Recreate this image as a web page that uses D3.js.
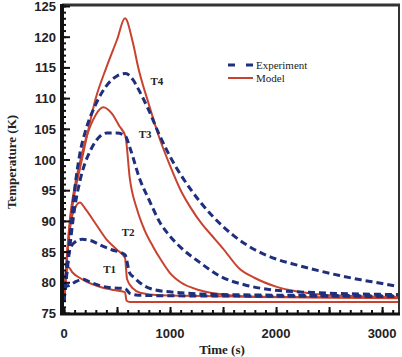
<!DOCTYPE html>
<html>
<head>
<meta charset="utf-8">
<script src="https://d3js.org/d3.v7.min.js"></script>
<style>
  body { margin: 0; background: #fff; }
  .tick-label { font-family: "Liberation Sans", Arial, sans-serif; font-weight: bold; font-size: 13px; fill: #222; }
  .axis-title { font-family: "Liberation Serif", "Times New Roman", serif; font-weight: bold; font-size: 13px; fill: #222; }
  .curve-label { font-family: "Liberation Serif", "Times New Roman", serif; font-weight: bold; font-size: 11px; fill: #222; }
  .legend-text { font-family: "Liberation Serif", "Times New Roman", serif; font-size: 11px; fill: #222; }
</style>
</head>
<body>
<svg width="402" height="357"></svg>
<script>
// data: [time (s), temperature (K)]
var expT1 = [[0,77],[20,79.3],[50,79.5],[100,80],[180,80.5],[250,80],[350,79.4],[450,79.1],[575,79],[620,78.2],[700,77.9],[1000,77.8],[3150,77.7]];
var expT2 = [[0,77],[30,83],[60,85.5],[100,86.5],[170,87],[250,86.8],[350,86],[450,85.3],[575,84.5],[620,81.5],[660,80.8],[750,79.5],[850,78.8],[1100,78.3],[1500,78],[3150,77.8]];
var expT3 = [[0,77],[50,85],[100,92],[150,96.5],[200,99.5],[250,101.5],[300,103],[400,104.3],[500,104.3],[580,103.8],[620,102],[717,96.7],[800,93.5],[906,89.7],[1000,87.5],[1100,85.7],[1283,83.2],[1470,81],[1700,79.6],[1950,78.8],[2400,78.3],[3150,78]];
var expT4 = [[0,77],[50,86],[100,95],[150,101],[200,104.5],[300,109],[400,112],[500,113.6],[580,114],[650,113],[700,111.5],[800,108],[900,104],[1000,100.5],[1200,95],[1400,90.8],[1600,87.6],[1800,85.3],[2000,83.8],[2200,82.8],[2400,81.9],[2600,81.1],[2800,80.4],[3000,79.8],[3150,79.3]];

var modT1 = [[0,77],[20,81],[40,82.5],[80,81.6],[150,80.7],[250,79.8],[350,79.2],[450,78.8],[575,78.4],[590,77],[620,76.8],[3150,76.8]];
var modT2 = [[0,77],[40,86],[80,91],[150,93],[200,92],[300,89.5],[400,87],[500,85.3],[575,84],[595,80.5],[650,79],[717,78.3],[900,77.9],[3150,77.5]];
var modT3 = [[0,77],[30,85],[60,91],[100,95.5],[150,99.5],[200,103],[250,105.5],[300,107.3],[370,108.5],[450,107.5],[520,105.5],[580,103.7],[620,97],[690,91.8],[760,88.5],[840,85.8],[920,83.5],[1000,81.5],[1100,80],[1280,78.7],[1500,78],[1800,77.6],[3150,77.4]];
var modT4 = [[0,77],[30,84.5],[60,90],[100,94.5],[150,98.5],[200,102.5],[300,110],[400,115],[500,119.5],[575,123],[650,119],[700,115],[800,109],[900,103.5],[1000,99],[1100,95],[1200,92],[1300,89.5],[1400,87.5],[1500,85.5],[1650,82.3],[1800,80.7],[2000,79.3],[2200,78.5],[2500,77.9],[3150,77.6]];

var xTicks = [0, 1000, 2000, 3000];
var yTicks = [75, 80, 85, 90, 95, 100, 105, 110, 115, 120, 125];

var curveLabels = [
  {text: "T1", t: 370, v: 81.5},
  {text: "T2", t: 545, v: 87.5},
  {text: "T3", t: 705, v: 103.5},
  {text: "T4", t: 815, v: 112.2}
];

var svg = d3.select("svg"),
    red = "#c8432f",
    blue = "#1f2f7c";

var x = d3.scaleLinear().domain([0, 3150]).range([64, 398]);
var y = d3.scaleLinear().domain([75, 125]).range([313, 6]);

var line = d3.line()
    .x(function (d) { return x(d[0]); })
    .y(function (d) { return y(d[1]); })
    .curve(d3.curveMonotoneX);

// clip so nothing spills over the frame
svg.append("clipPath").attr("id", "plot")
  .append("rect").attr("x", 64).attr("y", 6).attr("width", 334).attr("height", 307);

var g = svg.append("g").attr("clip-path", "url(#plot)");

[modT1, modT2, modT3, modT4].forEach(function (s) {
  g.append("path").attr("d", line(s))
    .attr("fill", "none").attr("stroke", red).attr("stroke-width", 2);
});

[expT1, expT2, expT3, expT4].forEach(function (s) {
  g.append("path").attr("d", line(s))
    .attr("fill", "none").attr("stroke", blue).attr("stroke-width", 3)
    .attr("stroke-dasharray", "7,4");
});

// frame
svg.append("line").attr("x1", 62).attr("x2", 400).attr("y1", 5).attr("y2", 5)
  .attr("stroke", "#333").attr("stroke-width", 3);
svg.append("line").attr("x1", 399).attr("x2", 399).attr("y1", 4).attr("y2", 314)
  .attr("stroke", "#333").attr("stroke-width", 2);

// axes with ticks pointing inward
var yMinor = d3.axisRight(y).tickValues(d3.range(75, 126, 1)).tickSize(4).tickFormat("");
var yMajor = d3.axisRight(y).tickValues(yTicks).tickSize(8).tickFormat("");
svg.append("g").attr("transform", "translate(62,0)").call(yMinor);
svg.append("g").attr("transform", "translate(62,0)").call(yMajor);

var xMinor = d3.axisTop(x).tickValues(d3.range(0, 3151, 100)).tickSize(3).tickFormat("");
var xMid = d3.axisTop(x).tickValues(d3.range(0, 3151, 500)).tickSize(6).tickFormat("");
svg.append("g").attr("transform", "translate(0,313)").call(xMinor);
svg.append("g").attr("transform", "translate(0,313)").call(xMid);

svg.selectAll(".domain").remove();
svg.selectAll(".tick line").attr("stroke", "#111").attr("stroke-width", 2);

svg.append("line").attr("x1", 62).attr("x2", 62).attr("y1", 4).attr("y2", 315)
  .attr("stroke", "#111").attr("stroke-width", 4);
svg.append("line").attr("x1", 60).attr("x2", 400).attr("y1", 314).attr("y2", 314)
  .attr("stroke", "#111").attr("stroke-width", 3);

// tick labels (top one nudged down so it stays inside the page)
svg.selectAll(".ylab").data(yTicks).enter().append("text")
  .attr("class", "tick-label")
  .attr("x", 56).attr("y", function (d) { return Math.max(y(d) + 5, 11); })
  .attr("text-anchor", "end")
  .text(function (d) { return d; });

svg.selectAll(".xlab").data(xTicks).enter().append("text")
  .attr("class", "tick-label")
  .attr("x", function (d) { return x(d); }).attr("y", 338)
  .attr("text-anchor", "middle")
  .text(function (d) { return d; });

// axis titles
svg.append("text").attr("class", "axis-title")
  .attr("transform", "translate(16,162) rotate(-90)")
  .attr("text-anchor", "middle")
  .text("Temperature (K)");
svg.append("text").attr("class", "axis-title")
  .attr("x", 222).attr("y", 354)
  .attr("text-anchor", "middle")
  .text("Time (s)");

// curve labels
svg.selectAll(".clab").data(curveLabels).enter().append("text")
  .attr("class", "curve-label")
  .attr("x", function (d) { return x(d.t); })
  .attr("y", function (d) { return y(d.v); })
  .text(function (d) { return d.text; });

// legend
svg.append("line").attr("x1", 228).attr("x2", 253).attr("y1", 65).attr("y2", 65)
  .attr("stroke", blue).attr("stroke-width", 3).attr("stroke-dasharray", "7,11");
svg.append("text").attr("class", "legend-text").attr("x", 256).attr("y", 69).text("Experiment");
svg.append("line").attr("x1", 228).attr("x2", 253).attr("y1", 78).attr("y2", 78)
  .attr("stroke", red).attr("stroke-width", 2);
svg.append("text").attr("class", "legend-text").attr("x", 256).attr("y", 82).text("Model");
</script>
</body>
</html>
